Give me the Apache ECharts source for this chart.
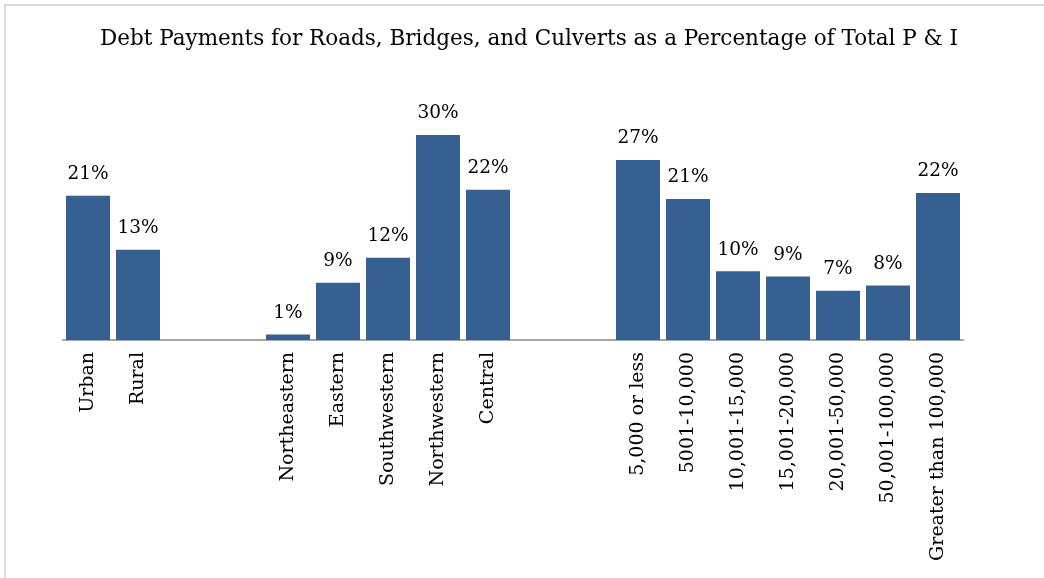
<!DOCTYPE html>
<html>
<head>
<meta charset="utf-8">
<script src="https://cdn.jsdelivr.net/npm/echarts@6/dist/echarts.min.js"></script>
<style>
  html, body { margin: 0; padding: 0; background: #ffffff; }
  #chart { width: 1044px; height: 578px; }
</style>
</head>
<body>
<div id="chart"></div>
<script>
// Category groups, separated by empty slots on the axis
const areaLabels = ['Urban', 'Rural'];
const regionLabels = ['Northeastern', 'Eastern', 'Southwestern', 'Northwestern', 'Central'];
const sizeLabels = ['5,000 or less', '5001-10,000', '10,001-15,000', '15,001-20,000',
                    '20,001-50,000', '50,001-100,000', 'Greater than 100,000'];

// Share of total principal & interest going to roads, bridges and culverts (%)
const areaValues = [21.4, 13.4];
const regionValues = [0.8, 8.5, 12.2, 30.4, 22.3];
const sizeValues = [26.7, 20.9, 10.2, 9.4, 7.3, 8.1, 21.8];

const GAP = 2; // empty slots between groups

const categories = [];
const values = [];
function addGroup(labels, vals, gapAfter) {
  labels.forEach((l, i) => { categories.push(l); values.push(vals[i]); });
  for (let i = 0; i < gapAfter; i++) { categories.push(''); values.push(null); }
}
addGroup(areaLabels, areaValues, GAP);
addGroup(regionLabels, regionValues, GAP);
addGroup(sizeLabels, sizeValues, 0);

const FONT = '"DejaVu Serif", serif';

const chart = echarts.init(document.getElementById('chart'), null, { renderer: 'canvas' });
chart.setOption({
  animation: false,
  backgroundColor: '#ffffff',
  title: {
    text: 'Debt Payments for Roads, Bridges, and Culverts as a Percentage of Total P & I',
    left: 524,
    textAlign: 'center',
    top: 23,
    textStyle: { fontFamily: FONT, fontSize: 21.5, fontWeight: 'normal', color: '#000000' }
  },
  graphic: [{
    type: 'polyline',
    shape: { points: [[1100, 5], [5, 5], [5, 640]] },
    style: { fill: null, stroke: '#d9d9d9', lineWidth: 2 },
    silent: true
  }],
  grid: { left: 63, width: 900, top: 104, bottom: 238, containLabel: false },
  xAxis: {
    type: 'category',
    data: categories,
    axisLine: { show: true, lineStyle: { color: '#a6a6a6', width: 2 } },
    axisTick: { show: false },
    axisLabel: {
      interval: 0,
      rotate: 90,
      margin: 12,
      fontFamily: FONT,
      fontSize: 19,
      color: '#000000'
    }
  },
  yAxis: {
    type: 'value',
    min: 0,
    max: 35,
    show: false,
    splitLine: { show: false }
  },
  series: [{
    type: 'bar',
    data: values,
    barCategoryGap: '12%',
    itemStyle: { color: '#376092' },
    label: {
      show: true,
      position: 'top',
      distance: 12,
      fontFamily: FONT,
      fontSize: 18.5,
      color: '#000000',
      formatter: p => (p.value == null ? '' : Math.round(p.value) + '%')
    }
  }]
});
</script>
</body>
</html>
